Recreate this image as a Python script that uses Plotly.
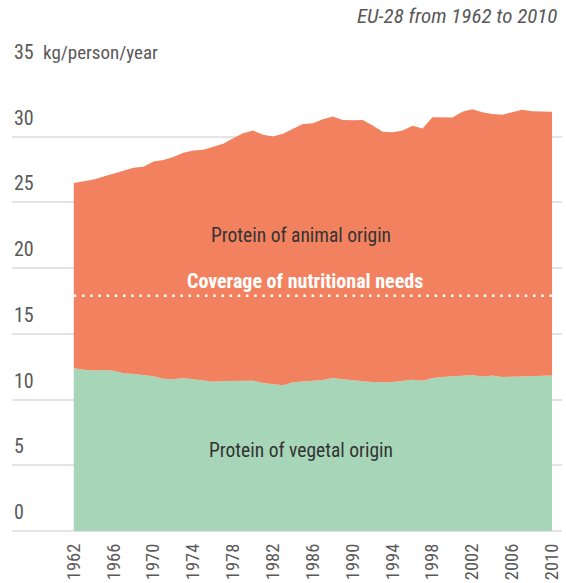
import plotly.graph_objects as go

# protein supply, EU-28, kg/person/year
years = list(range(1962, 2011))

vegetal = [12.38, 12.27, 12.22, 12.25, 12.20, 12.00, 11.94, 11.87, 11.77, 11.59,
           11.54, 11.64, 11.54, 11.41, 11.36, 11.41, 11.43, 11.46, 11.43, 11.26,
           11.18, 11.09, 11.31, 11.40, 11.44, 11.49, 11.64, 11.54, 11.44, 11.39,
           11.34, 11.31, 11.34, 11.41, 11.51, 11.44, 11.64, 11.72, 11.74, 11.81,
           11.87, 11.74, 11.84, 11.72, 11.74, 11.77, 11.81, 11.84, 11.84]

total = [26.47, 26.62, 26.75, 26.98, 27.20, 27.43, 27.63, 27.71, 28.12, 28.22,
         28.45, 28.78, 28.96, 29.00, 29.26, 29.46, 29.89, 30.27, 30.47, 30.14,
         30.01, 30.22, 30.60, 30.97, 31.03, 31.33, 31.53, 31.28, 31.25, 31.28,
         30.85, 30.37, 30.34, 30.47, 30.83, 30.62, 31.48, 31.48, 31.46, 31.89,
         32.09, 31.86, 31.73, 31.68, 31.89, 32.06, 31.94, 31.94, 31.89]

needs = 17.9

x_ticks = [1962, 1966, 1970, 1974, 1978, 1982, 1986, 1990, 1994, 1998, 2002, 2006, 2010]
y_ticks = [0, 5, 10, 15, 20, 25, 30, 35]

FONT = "Roboto Condensed, DejaVu Sans Condensed, sans-serif"
ORANGE = "#f2825f"
GREEN = "#a7d5b8"
GREY = "#595959"

fig = go.Figure()
fig.add_trace(go.Scatter(
    x=years, y=vegetal, mode="lines", line=dict(width=0),
    fill="tozeroy", fillcolor=GREEN, hoverinfo="skip"))
fig.add_trace(go.Scatter(
    x=years, y=total, mode="lines", line=dict(width=0),
    fill="tonexty", fillcolor=ORANGE, hoverinfo="skip"))

fig.add_shape(type="line", x0=years[0], x1=years[-1], y0=needs, y1=needs,
              line=dict(color="white", width=2.5, dash="2.5px,5.7px"), layer="above")

# y tick labels sit above their gridlines
annotations = []
for v in y_ticks:
    annotations.append(dict(
        x=0, xref="paper", y=v, yref="y", text=str(v), showarrow=False,
        xanchor="left", yanchor="bottom", yshift=5,
        font=dict(family=FONT, size=20, color=GREY)))

annotations += [
    dict(x=0, xref="paper", y=35, yref="y", text="kg/person/year", showarrow=False,
         xanchor="left", yanchor="bottom", yshift=5, xshift=29,
         font=dict(family=FONT, size=19, color=GREY)),
    dict(x=1, xref="paper", y=1, yref="paper", text="<i>EU-28 from 1962 to 2010</i>",
         showarrow=False, xanchor="right", yanchor="bottom", yshift=41, xshift=-3,
         font=dict(family=FONT, size=21, color=GREY)),
    dict(x=1984.8, y=22.5, text="Protein of animal origin", showarrow=False,
         font=dict(family=FONT, size=19.5, color="#333333")),
    dict(x=1985.2, y=19.05, text="<b>Coverage of nutritional needs</b>", showarrow=False,
         font=dict(family=FONT, size=20, color="white")),
    dict(x=1984.8, y=6.1, text="Protein of vegetal origin", showarrow=False,
         font=dict(family=FONT, size=19.5, color="#333333")),
]

fig.update_layout(
    width=566, height=583,
    margin=dict(l=12, r=4, t=71, b=52),
    paper_bgcolor="white", plot_bgcolor="white",
    showlegend=False,
    annotations=annotations,
    font=dict(family=FONT, color=GREY),
)
fig.update_xaxes(
    range=[1955.8, 2011.0], showgrid=False, zeroline=False, showline=False,
    tickmode="array", tickvals=x_ticks, ticktext=[str(t) for t in x_ticks],
    tickangle=-90, ticks="", ticklabelstandoff=8, automargin=False,
    tickfont=dict(family=FONT, size=18.5, color=GREY))
fig.update_yaxes(
    range=[0, 35], tickmode="array", tickvals=y_ticks, showticklabels=False,
    showgrid=True, gridcolor="#e4e4e4", gridwidth=1.5, automargin=False,
    zeroline=True, zerolinecolor="#e4e4e4", zerolinewidth=1.5, ticks="")

# page body has an 8px default margin; drop it so the figure fills the window
fig.write_html("out.html", config={"displayModeBar": False},
               post_script="document.body.style.margin = '0';")
